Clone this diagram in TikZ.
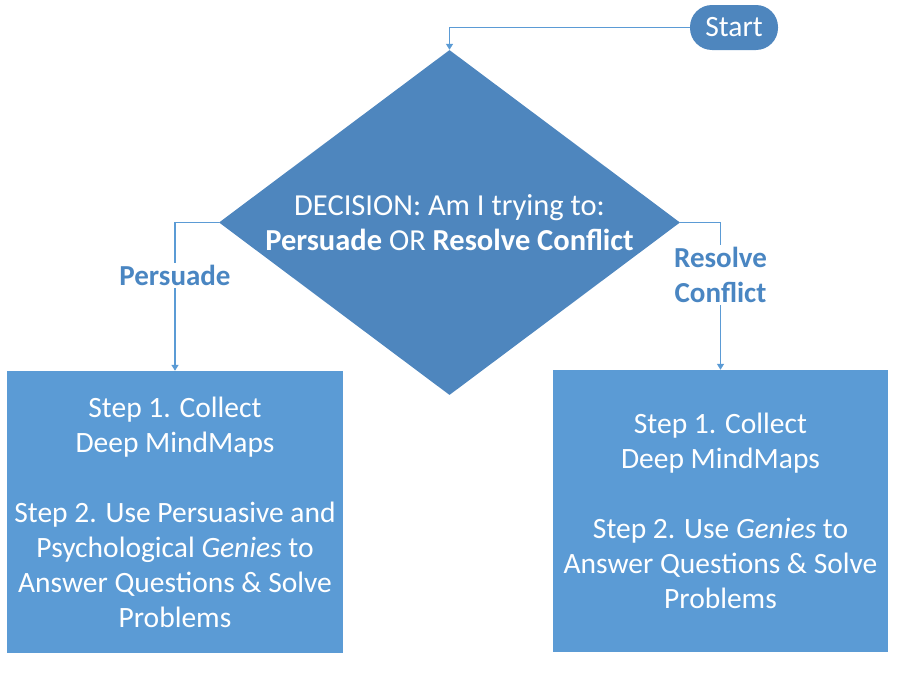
\documentclass[tikz,border=0pt]{standalone}
\usepackage{fontspec}
\setmainfont{Carlito}
\usetikzlibrary{shapes.geometric,arrows.meta}
\definecolor{darkblue}{HTML}{4E86BE}
\definecolor{boxblue}{HTML}{5B9BD5}
\definecolor{labblue}{HTML}{4A86C2}
\tikzset{
  conn/.style={draw=boxblue, line width=1.3pt, -{Triangle[width=7pt,length=6pt]}},
  stepbox/.style={rectangle, fill=boxblue, draw=none, text=white, align=center,
    inner sep=0pt, font=\fontsize{29.5}{35}\selectfont},
  lab/.style={fill=white, text=labblue, align=center, inner sep=2pt,
    font=\fontsize{29}{35}\selectfont\bfseries},
  txt/.style={text=white, align=center, inner sep=0pt, font=\fontsize{30.5}{35}\selectfont},
}
\begin{document}
\begin{tikzpicture}[x=1pt,y=-1pt]
\useasboundingbox (0,0) rectangle (900,680);
\node[rectangle, rounded corners=22pt, fill=darkblue, minimum width=88pt, minimum height=45pt,
  inner sep=0pt, text=white, font=\fontsize{29.5}{35}\selectfont] (start) at (734,27.5) {Start};
\node[diamond, fill=darkblue, inner sep=0pt, minimum width=461pt, minimum height=345pt] (dec) at (449.5,222.5) {};
\node[txt] (dectext) at (dec.center) {DECISION: Am I trying to:\\\textbf{Persuade} OR \textbf{Resolve Conflict}};
\node[stepbox, minimum width=336pt, minimum height=282pt] (lbox) at (175,512)
  {Step 1. Collect\\Deep MindMaps\\[35pt]Step 2. Use Persuasive and\\Psychological \textit{Genies} to\\Answer Questions \& Solve\\Problems};
\node[stepbox, minimum width=335pt, minimum height=282pt] (rbox) at (720.5,511)
  {Step 1. Collect\\Deep MindMaps\\[35pt]Step 2. Use \textit{Genies} to\\Answer Questions \& Solve\\Problems};
\draw[conn] (start.west) -| (dec.north);
\draw[conn] (dec.west) -| node[lab, pos=0.678] (plab) {Persuade} (lbox.north);
\draw[conn] (dec.east) -| node[lab, pos=0.678] (rlab) {Resolve\\Conflict} (rbox.north);
\end{tikzpicture}
\end{document}
